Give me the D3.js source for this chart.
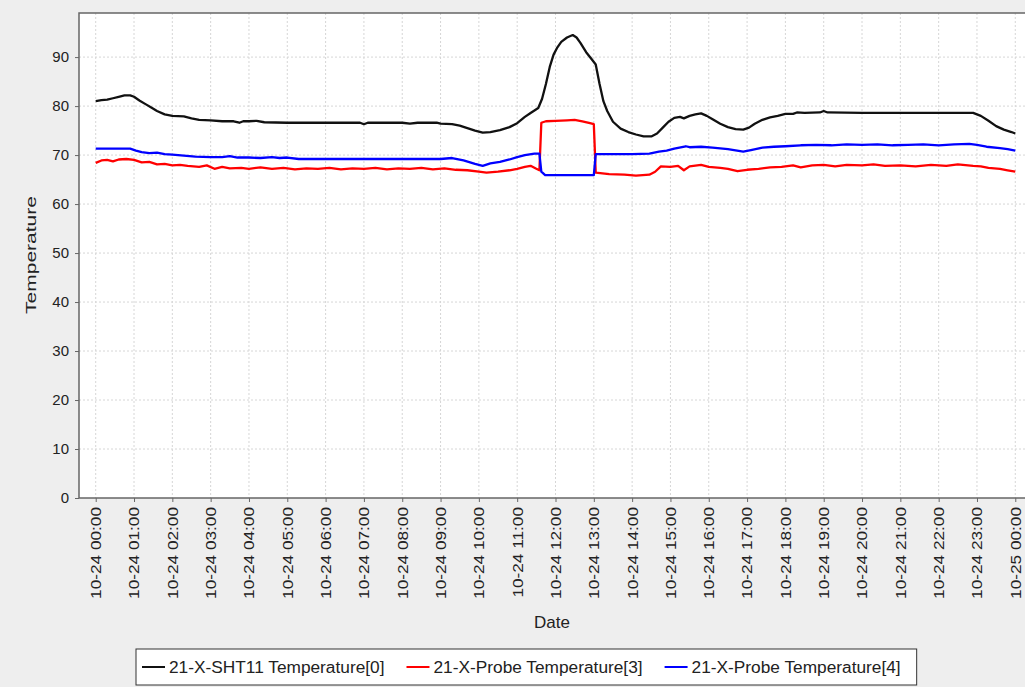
<!DOCTYPE html>
<html>
<head>
<meta charset="utf-8">
<script src="https://d3js.org/d3.v7.min.js"></script>
<style>
body { margin: 0; background: #eeeeee; overflow: hidden; }
text { font-family: "Liberation Sans", Arial, sans-serif; fill: #222; }
</style>
</head>
<body>
<script>
var width = 1025,
	height = 687;

// series names, hours after 10-24 00:00 and the temperature
var seriesNames = ["21-X-SHT11 Temperature[0]", "21-X-Probe Temperature[3]", "21-X-Probe Temperature[4]"];
var yTicks = [0, 10, 20, 30, 40, 50, 60, 70, 80, 90];

var sht11 = [[0,81.0],[0.15,81.2],[0.3,81.3],[0.45,81.6],[0.6,81.9],[0.75,82.2],[0.9,82.2],[1.0,81.9],[1.15,81.1],[1.3,80.4],
	[1.45,79.7],[1.6,79.0],[1.8,78.3],[2.0,78.0],[2.3,77.9],[2.5,77.5],[2.7,77.2],[3.0,77.1],[3.3,76.9],[3.6,76.9],
	[3.75,76.6],[3.85,76.9],[4.0,76.9],[4.2,77.0],[4.4,76.7],[5.0,76.6],[6.0,76.6],[6.9,76.6],[7.0,76.3],[7.1,76.6],
	[8.0,76.6],[8.2,76.4],[8.4,76.6],[8.9,76.6],[9.0,76.4],[9.3,76.3],[9.5,76.0],[9.7,75.5],[9.9,75.0],[10.1,74.6],
	[10.3,74.7],[10.55,75.1],[10.8,75.7],[11.0,76.5],[11.2,77.8],[11.35,78.6],[11.55,79.6],[11.65,81.5],[11.75,84.5],[11.85,88.0],
	[11.95,90.5],[12.05,92.0],[12.15,93.1],[12.3,94.0],[12.45,94.5],[12.55,94.0],[12.65,92.9],[12.8,91.0],[12.95,89.5],[13.05,88.5],
	[13.15,84.5],[13.25,81.0],[13.35,79.0],[13.5,76.8],[13.7,75.4],[13.9,74.7],[14.1,74.2],[14.3,73.8],[14.5,73.8],[14.65,74.4],
	[14.8,75.6],[14.95,76.8],[15.1,77.6],[15.25,77.8],[15.35,77.5],[15.5,78.0],[15.65,78.3],[15.8,78.5],[15.95,78.0],[16.1,77.3],
	[16.3,76.4],[16.5,75.7],[16.7,75.3],[16.9,75.2],[17.05,75.6],[17.2,76.4],[17.4,77.2],[17.6,77.7],[17.8,78.0],[18.0,78.4],
	[18.2,78.4],[18.3,78.7],[18.5,78.6],[18.9,78.7],[19.0,79.0],[19.1,78.7],[20.0,78.6],[21.0,78.6],[22.0,78.6],[22.9,78.6],
	[23.1,78.0],[23.3,77.0],[23.5,75.9],[23.7,75.2],[23.9,74.7],[24.0,74.4]];

var probe3 = [[0,68.4],[0.15,68.9],[0.3,69.0],[0.45,68.7],[0.6,69.1],[0.8,69.2],[1.0,69.0],[1.2,68.5],[1.4,68.6],[1.6,68.1],
	[1.8,68.2],[2.0,67.9],[2.2,68.0],[2.4,67.8],[2.7,67.6],[2.9,67.9],[3.1,67.2],[3.3,67.6],[3.5,67.3],[3.8,67.4],
	[4.0,67.2],[4.3,67.5],[4.6,67.2],[4.9,67.4],[5.2,67.1],[5.5,67.3],[5.8,67.2],[6.1,67.4],[6.4,67.1],[6.7,67.3],
	[7.0,67.2],[7.3,67.4],[7.6,67.1],[7.9,67.3],[8.2,67.2],[8.5,67.4],[8.8,67.1],[9.1,67.3],[9.4,67.0],[9.7,66.9],
	[10.0,66.6],[10.2,66.4],[10.5,66.6],[10.8,66.9],[11.0,67.2],[11.2,67.6],[11.35,67.8],[11.5,67.2],[11.58,66.9],[11.63,76.6],
	[11.75,76.9],[12.0,77.0],[12.3,77.1],[12.5,77.2],[12.7,76.9],[12.9,76.5],[13.0,76.3],[13.05,66.4],[13.4,66.1],[13.8,66.0],
	[14.1,65.8],[14.45,66.0],[14.6,66.6],[14.75,67.7],[15.0,67.6],[15.2,67.8],[15.35,66.9],[15.5,67.7],[15.8,68.0],[16.0,67.6],
	[16.3,67.4],[16.5,67.2],[16.75,66.7],[17.0,67.0],[17.3,67.2],[17.6,67.5],[17.9,67.6],[18.2,67.9],[18.4,67.5],[18.7,67.9],
	[19.0,68.0],[19.3,67.7],[19.6,68.0],[20.0,67.9],[20.3,68.1],[20.6,67.8],[21.0,67.9],[21.4,67.7],[21.8,68.0],[22.2,67.8],
	[22.5,68.1],[22.9,67.8],[23.1,67.7],[23.3,67.4],[23.6,67.2],[23.8,66.9],[24.0,66.6]];

var probe4 = [[0,71.3],[0.5,71.3],[0.9,71.3],[1.05,70.9],[1.2,70.6],[1.4,70.4],[1.6,70.5],[1.8,70.2],[2.0,70.1],[2.3,69.9],
	[2.6,69.7],[3.0,69.6],[3.3,69.6],[3.5,69.8],[3.7,69.5],[4.0,69.5],[4.3,69.4],[4.6,69.6],[4.8,69.4],[5.0,69.5],
	[5.3,69.2],[5.6,69.2],[6.0,69.2],[7.0,69.2],[8.0,69.2],[9.0,69.2],[9.3,69.4],[9.6,68.9],[9.9,68.2],[10.1,67.8],
	[10.3,68.3],[10.55,68.6],[10.8,69.1],[11.0,69.6],[11.2,70.0],[11.45,70.3],[11.58,70.3],[11.63,66.6],[11.73,65.9],[12.0,65.9],
	[12.5,65.9],[13.0,65.9],[13.05,70.2],[13.5,70.2],[14.0,70.2],[14.45,70.3],[14.7,70.7],[14.9,70.9],[15.1,71.3],[15.4,71.8],
	[15.5,71.6],[15.8,71.7],[16.1,71.5],[16.5,71.2],[16.9,70.7],[17.1,71.0],[17.4,71.5],[17.7,71.7],[18.0,71.8],[18.4,72.0],
	[18.8,72.1],[19.2,72.0],[19.6,72.2],[20.0,72.1],[20.4,72.2],[20.8,72.0],[21.2,72.1],[21.6,72.2],[22.0,72.0],[22.4,72.2],
	[22.8,72.3],[23.0,72.1],[23.25,71.7],[23.6,71.4],[23.8,71.2],[24.0,70.9]];

var seriesColors = ["#111111", "#ff0000", "#0000ff"];
var allSeries = [sht11, probe3, probe4];

var start = new Date(2013, 9, 24, 0, 0);
function toDate(h) { return new Date(start.getTime() + h * 3600000); }

var plotLeft = 79, plotTop = 13, plotBottom = 498, plotRight = 1032;

var x = d3.scaleTime()
	.domain([toDate(-0.436), toDate(24.436)])
	.range([plotLeft, plotRight]);

var y = d3.scaleLinear()
	.domain([0, 99])
	.range([plotBottom, plotTop]);

var svg = d3.select("body").append("svg")
	.attr("width", width)
	.attr("height", height);

svg.append("rect")
	.attr("width", width)
	.attr("height", height)
	.attr("fill", "#eeeeee");

svg.append("rect")
	.attr("x", plotLeft)
	.attr("y", plotTop)
	.attr("width", plotRight - plotLeft)
	.attr("height", plotBottom - plotTop)
	.attr("fill", "#ffffff");

svg.append("clipPath").attr("id", "clip")
	.append("rect")
	.attr("x", plotLeft)
	.attr("y", plotTop)
	.attr("width", plotRight - plotLeft)
	.attr("height", plotBottom - plotTop);

var hourTicks = x.ticks(d3.timeHour.every(1));

// grid
svg.append("g").selectAll("line")
	.data(yTicks.filter(function(d) { return d > 0; }))
	.enter().append("line")
	.attr("x1", plotLeft).attr("x2", plotRight)
	.attr("y1", function(d) { return y(d); })
	.attr("y2", function(d) { return y(d); })
	.attr("stroke", "#d6d6d6")
	.attr("stroke-dasharray", "2,2");

svg.append("g").selectAll("line")
	.data(hourTicks)
	.enter().append("line")
	.attr("x1", function(d) { return x(d); })
	.attr("x2", function(d) { return x(d); })
	.attr("y1", plotTop).attr("y2", plotBottom)
	.attr("stroke", "#d6d6d6")
	.attr("stroke-dasharray", "2,2");

// lines
var line = d3.line()
	.x(function(d) { return x(toDate(d[0])); })
	.y(function(d) { return y(d[1]); });

svg.append("g")
	.attr("clip-path", "url(#clip)")
	.selectAll("path")
	.data(allSeries)
	.enter().append("path")
	.attr("d", line)
	.attr("fill", "none")
	.attr("stroke", function(d, i) { return seriesColors[i]; })
	.attr("stroke-width", 2.3)
	.attr("stroke-linejoin", "round");

// plot border
svg.append("rect")
	.attr("x", plotLeft)
	.attr("y", plotTop)
	.attr("width", plotRight - plotLeft)
	.attr("height", plotBottom - plotTop)
	.attr("fill", "none")
	.attr("stroke", "#666666")
	.attr("stroke-width", 1.5);

// y axis
var yAxis = svg.append("g")
	.attr("transform", "translate(" + plotLeft + ",0)")
	.call(d3.axisLeft(y).tickValues(yTicks).tickSize(4).tickPadding(6));
yAxis.select(".domain").remove();
yAxis.selectAll("line").attr("stroke", "#666666");
yAxis.selectAll("text")
	.style("font-size", "15px")
	.style("font-family", "'Liberation Sans', Arial, sans-serif")
	.attr("fill", "#222");

// x axis
var xAxis = svg.append("g")
	.attr("transform", "translate(0," + plotBottom + ")")
	.call(d3.axisBottom(x).ticks(d3.timeHour.every(1)).tickFormat(d3.timeFormat("%m-%d %H:%M")).tickSize(4));
xAxis.select(".domain").remove();
xAxis.selectAll("line").attr("stroke", "#666666");
xAxis.selectAll("text")
	.attr("x", 0)
	.attr("y", 0)
	.attr("dy", "0.35em")
	.attr("text-anchor", "end")
	.attr("transform", "translate(0,9) rotate(-90) scale(1.23,1)")
	.style("font-size", "14px")
	.style("font-family", "'Liberation Sans', Arial, sans-serif")
	.attr("fill", "#222");

// axis titles
svg.append("text")
	.attr("transform", "translate(35.5,255) rotate(-90) scale(1.5,1)")
	.attr("text-anchor", "middle")
	.style("font-size", "14px")
	.text("Temperature");

svg.append("text")
	.attr("x", 552)
	.attr("y", 628)
	.attr("text-anchor", "middle")
	.style("font-size", "17px")
	.text("Date");

// legend
var legend = svg.append("g");
var legendBox = legend.append("rect")
	.attr("x", 136)
	.attr("y", 649)
	.attr("height", 36)
	.attr("fill", "#ffffff")
	.attr("stroke", "#333333");

var lx = 142;
seriesNames.forEach(function(name, i) {
	legend.append("line")
		.attr("x1", lx).attr("x2", lx + 23)
		.attr("y1", 667).attr("y2", 667)
		.attr("stroke", seriesColors[i])
		.attr("stroke-width", 2);
	var t = legend.append("text")
		.attr("x", lx + 27)
		.attr("y", 673)
		.style("font-size", "17.3px")
		.text(name);
	lx = lx + 27 + t.node().getComputedTextLength() + 22;
});
legendBox.attr("width", lx - 22 + 16 - 136);
</script>
</body>
</html>
